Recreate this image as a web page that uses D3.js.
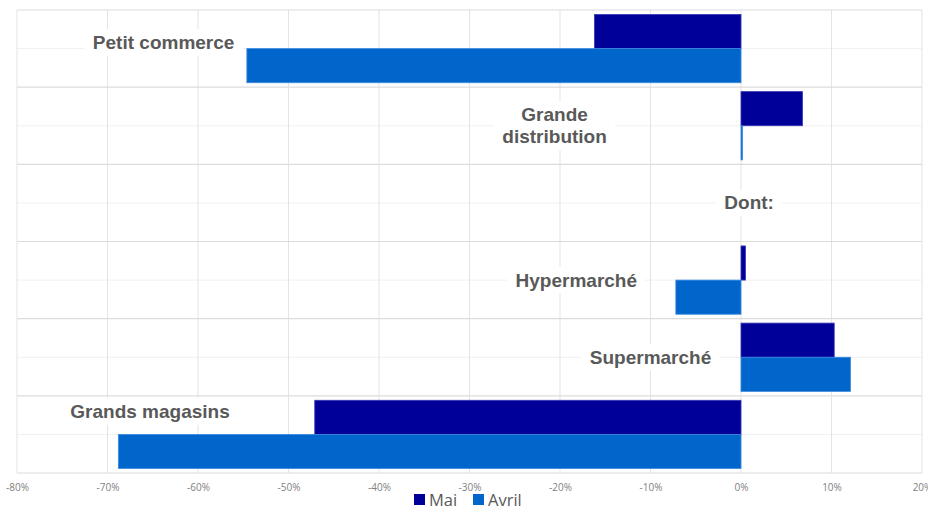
<!DOCTYPE html>
<html>
<head>
<meta charset="utf-8">
<script src="https://cdn.jsdelivr.net/npm/d3@7"></script>
<style>
  body { margin: 0; background: #fff; }
  svg { display: block; }
</style>
</head>
<body>
<div id="chart"></div>
<script>
// Data
const categories = ["Petit commerce", "Grande distribution", "Dont:", "Hypermarché", "Supermarché", "Grands magasins"];
const mai = [-16.2, 6.8, null, 0.5, 10.3, -47.1];
const avril = [-54.6, 0.1, null, -7.2, 12.1, -68.8];
const series = ["Mai", "Avril"];
const tickValues = [-80, -70, -60, -50, -40, -30, -20, -10, 0, 10, 20];
// label anchor (in % on x axis) and vertical position inside the band (fraction of band)
const labelX = [-63.8, -20.6, 0.9, -18.2, -10.0, -65.3];
const labelYFrac = [0.42, 0.5, 0.5, 0.5, 0.5, 0.2];

const width = 928, height = 518;
const margin = {top: 10, right: 6, bottom: 45, left: 17};

const svg = d3.select("#chart").append("svg")
    .attr("width", width)
    .attr("height", height);

const x = d3.scaleLinear()
    .domain([-80, 20])
    .range([margin.left, width - margin.right]);

const y = d3.scaleBand()
    .domain(categories)
    .range([margin.top, height - margin.bottom]);

const inner = d3.scaleBand()
    .domain(series)
    .range([0, y.bandwidth()])
    .paddingOuter(0.13);

const color = d3.scaleOrdinal().domain(series).range(["#000099", "#0066cc"]);

// minor horizontal grid (middle of each band)
svg.append("g")
  .selectAll("line")
  .data(categories)
  .enter().append("line")
    .attr("x1", x(-80)).attr("x2", x(20))
    .attr("y1", d => y(d) + y.bandwidth() / 2)
    .attr("y2", d => y(d) + y.bandwidth() / 2)
    .attr("stroke", "#f0f0f0")
    .attr("stroke-width", 1);

// vertical grid
svg.append("g")
  .selectAll("line")
  .data(tickValues)
  .enter().append("line")
    .attr("x1", d => x(d)).attr("x2", d => x(d))
    .attr("y1", margin.top).attr("y2", height - margin.bottom)
    .attr("stroke", "#e3e3e3")
    .attr("stroke-width", 1);

// major horizontal grid
const bounds = categories.map(d => y(d)).concat([y.range()[1]]);
svg.append("g")
  .selectAll("line")
  .data(bounds)
  .enter().append("line")
    .attr("x1", x(-80)).attr("x2", x(20))
    .attr("y1", d => d).attr("y2", d => d)
    .attr("stroke", "#dcdcdc")
    .attr("stroke-width", 1.2);

// labels with white backgrounds (drawn before bars, over the grid)
const labels = svg.append("g")
  .selectAll("g")
  .data(categories)
  .enter().append("g")
    .attr("transform", (d, i) => `translate(${x(labelX[i])},${y(d) + y.bandwidth() * labelYFrac[i]})`);

labels.each(function(d, i) {
  const g = d3.select(this);
  const lines = d === "Grande distribution" ? ["Grande", "distribution"] : [d];
  const t = g.append("text")
      .attr("text-anchor", "middle")
      .attr("font-family", "Liberation Sans, Arial, sans-serif")
      .attr("font-weight", "bold")
      .attr("font-size", 19)
      .attr("fill", "#595959");
  lines.forEach((l, k) => {
    t.append("tspan")
      .attr("x", 0)
      .attr("dy", k === 0 ? ((1 - lines.length) * 11 + 6.5) : 22)
      .text(l);
  });
  const bb = t.node().getBBox();
  g.insert("rect", "text")
    .attr("x", bb.x - 8).attr("y", bb.y - 3)
    .attr("width", bb.width + 16).attr("height", bb.height + 6)
    .attr("fill", "#fff");
});

// bars
const rows = categories.map((c, i) => ({cat: c, Mai: mai[i], Avril: avril[i]}));
const groups = svg.append("g")
  .selectAll("g")
  .data(rows)
  .enter().append("g")
    .attr("transform", d => `translate(0,${y(d.cat)})`);

groups.selectAll("rect")
  .data(d => series.map(s => ({key: s, value: d[s]})).filter(v => v.value !== null))
  .enter().append("rect")
    .attr("x", d => x(Math.min(0, d.value)))
    .attr("y", d => inner(d.key))
    .attr("width", d => Math.max(1.5, Math.abs(x(d.value) - x(0))))
    .attr("height", inner.bandwidth())
    .attr("fill", d => color(d.key))
    .attr("stroke", d => d.key === "Mai" ? "#3a3ab8" : "#3d8ae0")
    .attr("stroke-width", 0.8);

// x axis tick labels
const xAxis = svg.append("g")
    .attr("transform", `translate(0,${height - margin.bottom})`)
    .call(d3.axisBottom(x).tickValues(tickValues).tickSize(0).tickPadding(11)
      .tickFormat(d => d + "%"));
xAxis.select(".domain").remove();
xAxis.selectAll("text")
    .attr("font-family", "Open Sans, sans-serif")
    .attr("font-size", 10)
    .attr("fill", "#7f7f7f");

// legend
const legend = svg.append("g")
    .attr("transform", `translate(414,${height - 13})`);
const legItems = legend.selectAll("g")
  .data(series)
  .enter().append("g")
    .attr("transform", (d, i) => `translate(${i * 59},0)`);
legItems.append("rect")
    .attr("x", 0).attr("y", -11)
    .attr("width", 11).attr("height", 11)
    .attr("fill", d => color(d));
legItems.append("text")
    .attr("x", 15).attr("y", 1)
    .attr("font-family", "Open Sans, sans-serif")
    .attr("font-size", 16.5)
    .attr("fill", "#595959")
    .text(d => d);
</script>
</body>
</html>
